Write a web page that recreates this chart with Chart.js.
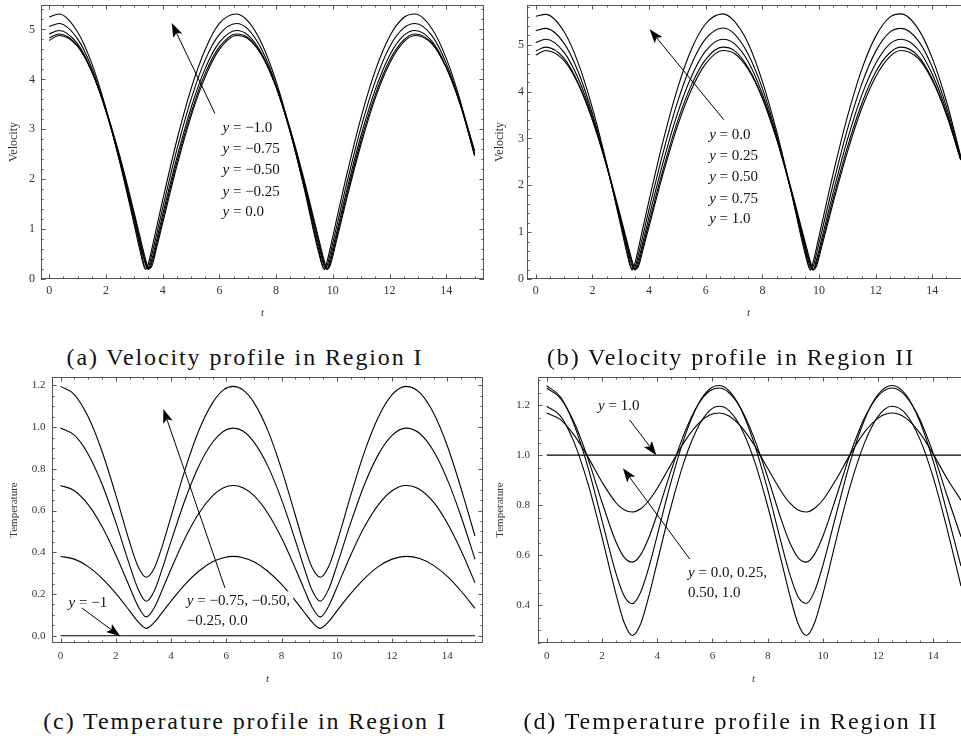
<!DOCTYPE html>
<html>
<head>
<meta charset="utf-8">
<script src="https://cdn.jsdelivr.net/npm/chart.js@4.4.1/dist/chart.umd.min.js"></script>
<style>
  html, body { margin: 0; padding: 0; background: #fff; width: 961px; height: 739px; overflow: hidden; }
  canvas { position: absolute; }
  .cap { position: absolute; width: 500px; text-align: center; white-space: nowrap;
         font-family: "Liberation Serif", "Times New Roman", serif; font-size: 24px;
         line-height: 28px; letter-spacing: 1.9px; color: #111; }
</style>
</head>
<body>
<canvas id="velI" width="490" height="322" style="left:0;top:0"></canvas>
<canvas id="velII" width="490" height="322" style="left:486px;top:0"></canvas>
<canvas id="tempI" width="490" height="316" style="left:0;top:372px"></canvas>
<canvas id="tempII" width="490" height="316" style="left:486px;top:372px"></canvas>
<div class="cap" style="left:-5px;top:343px">(a) Velocity profile in Region I</div>
<div class="cap" style="left:481px;top:343px">(b) Velocity profile in Region II</div>
<div class="cap" style="left:-5px;top:707px">(c) Temperature profile in Region I</div>
<div class="cap" style="left:481px;top:707px">(d) Temperature profile in Region II</div>
<script>
// --- DATA ---
const tTicks = [0, 2, 4, 6, 8, 10, 12, 14];
const velTicks = [0, 1, 2, 3, 4, 5];
const tempITicks = [0, 0.2, 0.4, 0.6, 0.8, 1.0, 1.2];
const tempIITicks = [0.4, 0.6, 0.8, 1.0, 1.2];

// time samples for the velocity plots (denser near the dips, one sample on each crest)
const tVelocity = [0, 0.35, 1, 1.5, 2, 2.5, 3, 3.2, 3.4, 3.5, 3.6, 3.8, 4, 4.5, 5, 5.5, 6, 6.6, 7, 7.5,
  8, 8.5, 9, 9.5, 9.7, 9.8, 9.9, 10.1, 10.5, 11, 11.5, 12, 12.5, 12.9, 13.5, 14, 14.5, 15];

// Region I velocity, y = -1.0 ... 0.0
const velI_yNeg100 = [5.25, 5.31, 4.95, 4.32, 3.42, 2.31, 1.08, 0.57, 0.19, 0.32, 0.56, 1.07, 1.58, 2.78, 3.81, 4.60, 5.12, 5.31, 5.17, 4.71,
  3.96, 2.97, 1.79, 0.53, 0.19, 0.36, 0.60, 1.11, 2.11, 3.25, 4.18, 4.86, 5.24, 5.31, 5.01, 4.42, 3.56, 2.47];
const velI_yNeg075 = [5.06, 5.12, 4.81, 4.23, 3.38, 2.33, 1.14, 0.65, 0.22, 0.24, 0.45, 0.93, 1.42, 2.59, 3.60, 4.39, 4.90, 5.12, 5.01, 4.59,
  3.89, 2.94, 1.82, 0.60, 0.20, 0.27, 0.49, 0.97, 1.94, 3.05, 3.97, 4.65, 5.03, 5.12, 4.87, 4.32, 3.51, 2.47];
const velI_yNeg050 = [4.91, 4.98, 4.71, 4.17, 3.36, 2.36, 1.20, 0.72, 0.28, 0.20, 0.35, 0.81, 1.29, 2.43, 3.43, 4.22, 4.74, 4.98, 4.89, 4.51,
  3.85, 2.94, 1.87, 0.68, 0.25, 0.21, 0.39, 0.85, 1.80, 2.89, 3.80, 4.48, 4.88, 4.98, 4.76, 4.25, 3.48, 2.49];
const velI_yNeg025 = [4.83, 4.91, 4.67, 4.15, 3.37, 2.39, 1.26, 0.78, 0.33, 0.19, 0.29, 0.73, 1.20, 2.34, 3.33, 4.12, 4.65, 4.91, 4.84, 4.48,
  3.84, 2.96, 1.91, 0.75, 0.30, 0.19, 0.32, 0.77, 1.71, 2.79, 3.70, 4.38, 4.79, 4.91, 4.72, 4.23, 3.49, 2.52];
// y = 0.0 is shared by both regions
const vel_y000 = [4.78, 4.88, 4.66, 4.16, 3.40, 2.44, 1.32, 0.85, 0.39, 0.22, 0.24, 0.66, 1.12, 2.26, 3.26, 4.05, 4.60, 4.88, 4.82, 4.48,
  3.86, 3.00, 1.96, 0.81, 0.36, 0.20, 0.26, 0.70, 1.63, 2.71, 3.63, 4.32, 4.75, 4.88, 4.71, 4.24, 3.51, 2.57];

// Region II velocity, y = 0.25 ... 1.0
const velII_y025 = [4.87, 4.95, 4.71, 4.18, 3.40, 2.41, 1.27, 0.79, 0.34, 0.19, 0.29, 0.74, 1.21, 2.35, 3.36, 4.15, 4.69, 4.95, 4.88, 4.51,
  3.87, 2.99, 1.92, 0.75, 0.30, 0.19, 0.32, 0.78, 1.72, 2.81, 3.73, 4.42, 4.83, 4.95, 4.76, 4.27, 3.51, 2.54];
const velII_y050 = [5.05, 5.12, 4.84, 4.28, 3.46, 2.42, 1.24, 0.74, 0.28, 0.20, 0.36, 0.83, 1.33, 2.50, 3.53, 4.33, 4.87, 5.12, 5.03, 4.64,
  3.95, 3.03, 1.92, 0.70, 0.25, 0.21, 0.39, 0.87, 1.85, 2.97, 3.91, 4.60, 5.02, 5.12, 4.90, 4.37, 3.58, 2.56];
const velII_y075 = [5.30, 5.35, 5.03, 4.42, 3.53, 2.44, 1.19, 0.67, 0.22, 0.25, 0.46, 0.97, 1.49, 2.71, 3.77, 4.59, 5.13, 5.36, 5.24, 4.80,
  4.07, 3.08, 1.91, 0.63, 0.20, 0.28, 0.51, 1.02, 2.03, 3.19, 4.15, 4.86, 5.27, 5.35, 5.09, 4.52, 3.67, 2.59];
const velII_y100 = [5.61, 5.65, 5.28, 4.61, 3.65, 2.47, 1.14, 0.60, 0.19, 0.34, 0.59, 1.14, 1.68, 2.96, 4.06, 4.91, 5.45, 5.66, 5.51, 5.03,
  4.22, 3.16, 1.91, 0.56, 0.19, 0.38, 0.64, 1.18, 2.25, 3.46, 4.46, 5.18, 5.59, 5.66, 5.34, 4.71, 3.79, 2.63];

// time samples for the temperature plots
const tTemperature = [0, 0.5, 1, 1.5, 2, 2.5, 2.8, 3.1, 3.4, 3.7, 4, 4.5, 5, 5.5, 5.9, 6.25, 6.6, 7, 7.5, 8,
  8.5, 8.8, 9.1, 9.4, 9.7, 10, 10.5, 11, 11.5, 12, 12.5, 13, 13.5, 14, 14.5, 15];

const tempI_yNeg100 = [0, 0, 0, 0, 0, 0, 0, 0, 0, 0, 0, 0, 0, 0, 0, 0, 0, 0, 0, 0,
  0, 0, 0, 0, 0, 0, 0, 0, 0, 0, 0, 0, 0, 0, 0, 0];
const tempI_yNeg075 = [0.380, 0.367, 0.331, 0.275, 0.203, 0.119, 0.068, 0.035, 0.065, 0.115, 0.166, 0.245, 0.309, 0.354, 0.374, 0.380, 0.374, 0.354, 0.309, 0.246,
  0.167, 0.116, 0.066, 0.035, 0.067, 0.118, 0.202, 0.274, 0.331, 0.367, 0.380, 0.370, 0.337, 0.284, 0.213, 0.131];
const tempI_yNeg050 = [0.720, 0.695, 0.628, 0.523, 0.387, 0.233, 0.143, 0.090, 0.136, 0.226, 0.320, 0.466, 0.586, 0.670, 0.709, 0.720, 0.709, 0.671, 0.587, 0.468,
  0.322, 0.228, 0.138, 0.090, 0.141, 0.231, 0.386, 0.522, 0.627, 0.695, 0.720, 0.701, 0.640, 0.539, 0.407, 0.254];
const tempI_yNeg025 = [0.995, 0.961, 0.870, 0.727, 0.543, 0.338, 0.225, 0.165, 0.217, 0.329, 0.453, 0.649, 0.812, 0.927, 0.980, 0.995, 0.981, 0.928, 0.814, 0.652,
  0.456, 0.332, 0.219, 0.165, 0.222, 0.336, 0.541, 0.725, 0.868, 0.960, 0.995, 0.969, 0.885, 0.748, 0.570, 0.366];
// y = 0.0 (interface) appears in both temperature plots
const temp_y000 = [1.195, 1.156, 1.049, 0.884, 0.674, 0.448, 0.333, 0.280, 0.326, 0.438, 0.572, 0.794, 0.982, 1.116, 1.178, 1.195, 1.178, 1.117, 0.984, 0.797,
  0.576, 0.441, 0.328, 0.280, 0.331, 0.445, 0.671, 0.881, 1.047, 1.155, 1.195, 1.165, 1.067, 0.909, 0.704, 0.477];
const tempII_y025 = [1.277, 1.232, 1.119, 0.949, 0.740, 0.531, 0.439, 0.407, 0.453, 0.553, 0.679, 0.892, 1.075, 1.206, 1.264, 1.278, 1.257, 1.191, 1.051, 0.862,
  0.646, 0.525, 0.435, 0.408, 0.457, 0.560, 0.772, 0.977, 1.139, 1.243, 1.278, 1.242, 1.137, 0.974, 0.769, 0.557];
const tempII_y050 = [1.267, 1.227, 1.129, 0.984, 0.813, 0.656, 0.593, 0.573, 0.602, 0.671, 0.765, 0.937, 1.092, 1.205, 1.256, 1.268, 1.249, 1.192, 1.071, 0.912,
  0.740, 0.651, 0.591, 0.573, 0.605, 0.676, 0.839, 1.008, 1.147, 1.237, 1.268, 1.236, 1.145, 1.005, 0.837, 0.674];
const tempII_y075 = [1.168, 1.142, 1.079, 0.991, 0.893, 0.811, 0.782, 0.773, 0.786, 0.819, 0.867, 0.963, 1.056, 1.127, 1.160, 1.168, 1.156, 1.119, 1.043, 0.948,
  0.854, 0.809, 0.781, 0.773, 0.788, 0.821, 0.907, 1.005, 1.091, 1.148, 1.168, 1.148, 1.090, 1.003, 0.906, 0.820];
const tempII_y100 = [1, 1, 1, 1, 1, 1, 1, 1, 1, 1, 1, 1, 1, 1, 1, 1, 1, 1, 1, 1,
  1, 1, 1, 1, 1, 1, 1, 1, 1, 1, 1, 1, 1, 1, 1, 1];

// --- DRAWING HELPERS ---
const serif = '"Liberation Serif", "Times New Roman", serif';

// Mathematica-style frame: box on all four sides, ticks pointing inward
function frameTicks(xMinor, yMinor) {
  return {
    id: 'frameTicks',
    afterDatasetsDraw(chart) {
      const { ctx, chartArea: a, scales: { x, y } } = chart;
      ctx.save();
      ctx.strokeStyle = '#555';
      ctx.lineWidth = 1;
      ctx.strokeRect(Math.round(a.left) + 0.5, Math.round(a.top) + 0.5, Math.round(a.width) - 1, Math.round(a.height) - 1);

      const seg = (x0, y0, x1, y1) => { ctx.beginPath(); ctx.moveTo(x0, y0); ctx.lineTo(x1, y1); ctx.stroke(); };
      const xTick = (v, len) => {
        const p = Math.round(x.getPixelForValue(v)) + 0.5;
        seg(p, a.bottom, p, a.bottom - len);
        seg(p, a.top, p, a.top + len);
      };
      const yTick = (v, len) => {
        const p = Math.round(y.getPixelForValue(v)) + 0.5;
        seg(a.left, p, a.left + len, p);
        seg(a.right, p, a.right - len, p);
      };
      const minors = (scale, step, majors, fn) => {
        for (let k = Math.ceil(scale.min / step - 1e-9); k * step <= scale.max + 1e-9; k++) {
          const v = k * step;
          if (!majors.some(m => Math.abs(m.value - v) < 1e-6)) fn(v, 2.5);
        }
      };
      x.ticks.forEach(t => xTick(t.value, 4.5));
      y.ticks.forEach(t => yTick(t.value, 4.5));
      minors(x, xMinor, x.ticks, xTick);
      minors(y, yMinor, y.ticks, yTick);
      ctx.restore();
    }
  };
}

function drawArrow(ctx, x0, y0, x1, y1) {
  const ang = Math.atan2(y1 - y0, x1 - x0);
  const L = 14, W = 5, N = 3;
  ctx.beginPath();
  ctx.moveTo(x0, y0);
  ctx.lineTo(x1 - (L - N) * Math.cos(ang), y1 - (L - N) * Math.sin(ang));
  ctx.stroke();
  ctx.save();
  ctx.translate(x1, y1);
  ctx.rotate(ang);
  ctx.beginPath();
  ctx.moveTo(0, 0);
  ctx.lineTo(-L, W);
  ctx.lineTo(-L + N, 0);
  ctx.lineTo(-L, -W);
  ctx.closePath();
  ctx.fill();
  ctx.restore();
}

// text labels (left x, middle y, in data units) and arrows (tail -> head)
function notes(n) {
  return {
    id: 'notes',
    afterDatasetsDraw(chart) {
      const { ctx, scales: { x, y } } = chart;
      ctx.save();
      ctx.textBaseline = 'middle';
      ctx.textAlign = 'left';
      n.labels.forEach(([lx, ly, text, bg]) => {
        const px = x.getPixelForValue(lx), py = y.getPixelForValue(ly);
        const parts = text.startsWith('y') ? [['y', 'italic '], [text.slice(1), '']] : [[text, '']];
        let w = 0;
        parts.forEach(([s, st]) => { ctx.font = st + '15px ' + serif; w += ctx.measureText(s).width; });
        if (bg) { ctx.fillStyle = '#fff'; ctx.fillRect(px - 3, py - 10, w + 6, 20); }
        ctx.fillStyle = '#111';
        let cx = px;
        parts.forEach(([s, st]) => {
          ctx.font = st + '15px ' + serif;
          ctx.fillText(s, cx, py);
          cx += ctx.measureText(s).width;
        });
      });
      ctx.strokeStyle = '#000';
      ctx.fillStyle = '#000';
      ctx.lineWidth = 1;
      n.arrows.forEach(([ax, ay, bx, by]) => {
        drawArrow(ctx, x.getPixelForValue(ax), y.getPixelForValue(ay), x.getPixelForValue(bx), y.getPixelForValue(by));
      });
      ctx.restore();
    }
  };
}

function buildPanel(id, t, series, o) {
  return new Chart(document.getElementById(id), {
    type: 'line',
    data: {
      datasets: series.map(s => ({
        data: t.map((v, i) => ({ x: v, y: s[i] })),
        borderColor: '#000',
        borderWidth: 1.1,
        pointRadius: 0,
        cubicInterpolationMode: 'monotone',
        fill: false
      }))
    },
    options: {
      responsive: false,
      animation: false,
      events: [],
      layout: { padding: o.pad },
      plugins: { legend: { display: false }, tooltip: { enabled: false } },
      scales: {
        x: {
          type: 'linear', min: o.xMin, max: o.xMax,
          afterBuildTicks: s => { s.ticks = tTicks.map(v => ({ value: v })); },
          afterFit: s => { s.height = o.xHeight; s.paddingLeft = 0; s.paddingRight = 0; },
          grid: { display: false, drawTicks: false },
          border: { display: false },
          ticks: { padding: o.xPad, color: '#333', autoSkip: false, maxRotation: 0,
                   font: { family: serif, size: o.tickSize }, callback: v => String(v) },
          title: { display: true, text: 't', color: '#333', padding: 0,
                   font: { family: serif, size: 11, style: 'italic' } }
        },
        y: {
          type: 'linear', min: o.yMin, max: o.yMax,
          afterBuildTicks: s => { s.ticks = o.yTicks.map(v => ({ value: v })); },
          afterFit: s => { s.width = o.yWidth; s.paddingTop = 0; s.paddingBottom = 0; },
          grid: { display: false, drawTicks: false },
          border: { display: false },
          ticks: { padding: o.yPad, color: '#333', autoSkip: false,
                   font: { family: serif, size: o.tickSize }, callback: o.yFmt },
          title: { display: true, text: o.yTitle, color: '#333', padding: 0,
                   font: { family: serif, size: o.titleSize } }
        }
      }
    },
    plugins: [frameTicks(0.5, o.yMinor), notes(o.notes)]
  });
}

// --- PANELS ---
buildPanel('velI', tVelocity, [velI_yNeg100, velI_yNeg075, velI_yNeg050, velI_yNeg025, vel_y000], {
  xMin: -0.29, xMax: 15.33, yMin: 0, yMax: 5.49, yTicks: velTicks, yMinor: 0.2,
  yFmt: v => String(v), yTitle: 'Velocity', titleSize: 12, tickSize: 12,
  pad: { left: 7, top: 5, right: 6, bottom: 2 }, yWidth: 34, xHeight: 41, xPad: 4.5, yPad: 6,
  notes: {
    labels: [[6.11, 3.02, 'y = −1.0'], [6.11, 2.61, 'y = −0.75'], [6.11, 2.19, 'y = −0.50'],
             [6.11, 1.75, 'y = −0.25'], [6.11, 1.34, 'y = 0.0']],
    arrows: [[5.84, 3.32, 4.32, 5.13]]
  }
});

buildPanel('velII', tVelocity, [velII_y100, velII_y075, velII_y050, velII_y025, vel_y000], {
  xMin: -0.31, xMax: 15.33, yMin: 0, yMax: 5.85, yTicks: velTicks, yMinor: 0.2,
  yFmt: v => String(v), yTitle: 'Velocity', titleSize: 12, tickSize: 12,
  pad: { left: 7, top: 5, right: 6, bottom: 2 }, yWidth: 34, xHeight: 41, xPad: 4.5, yPad: 3,
  notes: {
    labels: [[6.12, 3.08, 'y = 0.0'], [6.12, 2.63, 'y = 0.25'], [6.12, 2.18, 'y = 0.50'],
             [6.12, 1.71, 'y = 0.75'], [6.12, 1.27, 'y = 1.0']],
    arrows: [[6.64, 3.40, 4.02, 5.33]]
  }
});

buildPanel('tempI', tTemperature, [tempI_yNeg100, tempI_yNeg075, tempI_yNeg050, tempI_yNeg025, temp_y000], {
  xMin: -0.31, xMax: 15.29, yMin: -0.035, yMax: 1.24, yTicks: tempITicks, yMinor: 0.05,
  yFmt: v => v.toFixed(1), yTitle: 'Temperature', titleSize: 11, tickSize: 11,
  pad: { left: 8, top: 5, right: 7, bottom: 2 }, yWidth: 44, xHeight: 43, xPad: 7, yPad: 6.5,
  notes: {
    labels: [[0.29, 0.157, 'y = −1'], [4.57, 0.164, 'y = −0.75, −0.50,', true], [4.57, 0.069, '−0.25, 0.0', true]],
    arrows: [[0.77, 0.133, 2.16, -0.003], [5.95, 0.229, 3.72, 1.087]]
  }
});

buildPanel('tempII', tTemperature, [tempII_y100, tempII_y075, tempII_y050, tempII_y025, temp_y000], {
  xMin: -0.315, xMax: 15.29, yMin: 0.25, yMax: 1.312, yTicks: tempIITicks, yMinor: 0.05,
  yFmt: v => v.toFixed(1), yTitle: 'Temperature', titleSize: 11, tickSize: 11,
  pad: { left: 8, top: 5, right: 7, bottom: 2 }, yWidth: 44, xHeight: 43, xPad: 7, yPad: 8,
  notes: {
    labels: [[1.86, 1.194, 'y = 1.0'], [5.12, 0.528, 'y = 0.0, 0.25,', true], [5.12, 0.451, '0.50, 1.0', true]],
    arrows: [[3.0, 1.141, 3.97, 1.0], [5.18, 0.585, 2.76, 0.948]]
  }
});
</script>
</body>
</html>
